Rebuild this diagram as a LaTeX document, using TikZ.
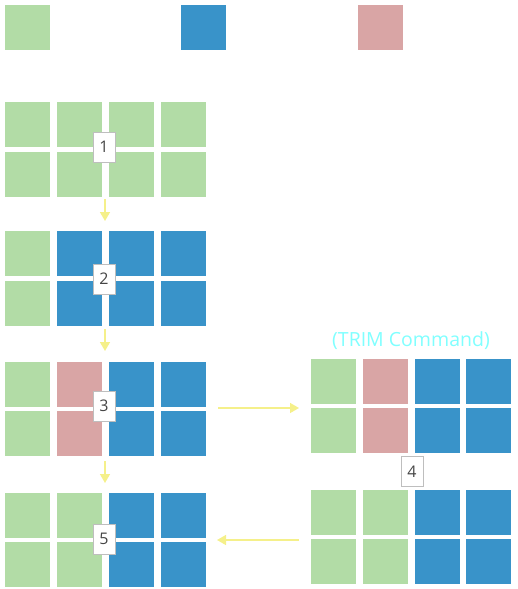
\documentclass[tikz,border=0pt]{standalone}
\usepackage{fontspec}
\setmainfont{Open Sans}
\usetikzlibrary{arrows.meta}
\definecolor{cgreen}{RGB}{178,220,166}
\definecolor{cblue}{RGB}{57,147,201}
\definecolor{cpink}{RGB}{217,165,165}
\definecolor{carrow}{RGB}{245,240,138}
\definecolor{ctitle}{RGB}{128,255,255}
\definecolor{cborder}{RGB}{190,190,190}
\definecolor{ctext}{RGB}{70,70,70}
\tikzset{
  cell/.style={draw=none,minimum width=45pt,minimum height=45pt,inner sep=0pt,anchor=north west,fill=#1},
  numbox/.style={draw=cborder,line width=1pt,fill=white,minimum width=22pt,minimum height=30pt,inner sep=0pt,text=ctext,font=\fontsize{16}{16}\selectfont},
  flow/.style={draw=carrow,line width=1.5pt,-{Triangle[width=10pt,length=9pt]}},
}
\begin{document}
\begin{tikzpicture}[x=1pt,y=-1pt]
\useasboundingbox (0,0) rectangle (517,589);
% legend
\node[cell=cgreen] (lg) at (5,5) {};
\node[cell=cblue] (lb) at (181,5) {};
\node[cell=cpink] (lp) at (358,5) {};
% grid 1
\foreach \c [count=\i from 0] in {cgreen,cgreen,cgreen,cgreen}{
  \node[cell=\c] (ga\i) at (5+52*\i,102) {};
  \node[cell=\c] (gb\i) at (5+52*\i,152) {};
}
% grid 2
\foreach \c [count=\i from 0] in {cgreen,cblue,cblue,cblue}{
  \node[cell=\c] (ha\i) at (5+52*\i,231) {};
  \node[cell=\c] (hb\i) at (5+52*\i,281) {};
}
% grid 3
\foreach \c [count=\i from 0] in {cgreen,cpink,cblue,cblue}{
  \node[cell=\c] (ia\i) at (5+52*\i,362) {};
  \node[cell=\c] (ib\i) at (5+52*\i,411) {};
}
% grid 5
\foreach \c [count=\i from 0] in {cgreen,cgreen,cblue,cblue}{
  \node[cell=\c] (ja\i) at (5+52*\i,493) {};
  \node[cell=\c] (jb\i) at (5+52*\i,542) {};
}
% grid 4 top
\foreach \c [count=\i from 0] in {cgreen,cpink,cblue,cblue}{
  \node[cell=\c] (ka\i) at (311+51.7*\i,359) {};
  \node[cell=\c] (kb\i) at (311+51.7*\i,408) {};
}
% grid 4 bottom
\foreach \c [count=\i from 0] in {cgreen,cgreen,cblue,cblue}{
  \node[cell=\c] (ma\i) at (311+51.7*\i,490) {};
  \node[cell=\c] (mb\i) at (311+51.7*\i,539) {};
}
% title
\node[text=ctitle,font=\fontsize{19.5}{19.5}\selectfont] (title) at (411,341) {(TRIM Command)};
% number boxes
\node[numbox] (n1) at (104,147) {1};
\node[numbox] (n2) at (104,279) {2};
\node[numbox] (n3) at (104,406) {3};
\node[numbox] (n4) at (412,471.5) {4};
\node[numbox] (n5) at (104,539) {5};
% arrow coordinates
\coordinate (a1s) at (105,199);
\coordinate (a1e) at (105,221);
\coordinate (a2s) at (105,329);
\coordinate (a2e) at (105,351);
\coordinate (a3s) at (105,461);
\coordinate (a3e) at (105,483);
\coordinate (ars) at (218,408);
\coordinate (are) at (299,408);
\coordinate (als) at (299,540);
\coordinate (ale) at (217,540);
\draw[flow] (a1s) -- (a1e);
\draw[flow] (a2s) -- (a2e);
\draw[flow] (a3s) -- (a3e);
\draw[flow] (ars) -- (are);
\draw[flow] (als) -- (ale);
\end{tikzpicture}
\end{document}
